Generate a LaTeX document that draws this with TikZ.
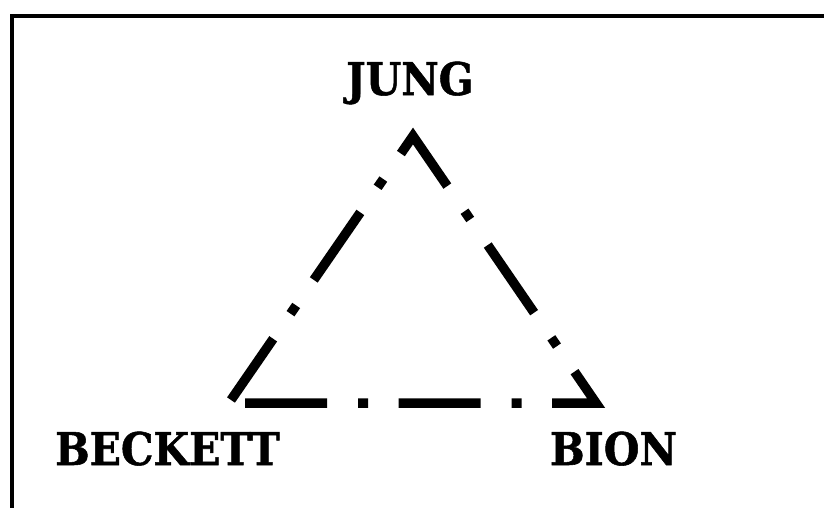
\documentclass[tikz,border=0pt]{standalone}
\usepackage{fontspec}
\newfontfamily\labelfont{DejaVu Serif}[BoldFeatures={FakeBold=1.2}]
\tikzset{
  frameline/.style={line width=4pt, line join=miter},
  triline/.style={line width=9.5pt, line cap=butt, line join=miter,
    dash pattern=on 82pt off 31pt on 10pt off 30.5pt},
  lbl/.style={font=\labelfont\bfseries\fontsize{45}{54}\selectfont,
    inner sep=0pt, anchor=base}
}
\newcommand{\narrowtext}[1]{\scalebox{0.91}[1]{#1}}
\begin{document}
\begin{tikzpicture}[x=1pt,y=-1pt]
\useasboundingbox (0,0) rectangle (824,507);
\fill[white] (0,0) rectangle (824,507);
\clip (0,0) rectangle (824,507);
\draw[frameline] (11.5,15.5) rectangle (840,525);
\node[lbl] (jung) at (410,95) {\narrowtext{JUNG}};
\node[lbl] (beckett) at (167.5,465) {\narrowtext{BECKETT}};
\node[lbl] (bion) at (613.5,465) {\narrowtext{BION}};
\coordinate (start) at (245,403);
\coordinate (corner) at (596,403);
\coordinate (apex) at (413,136);
\coordinate (finish) at (231,400);
\draw[triline] (start) -- (corner) -- (apex) -- (finish);
\end{tikzpicture}
\end{document}
